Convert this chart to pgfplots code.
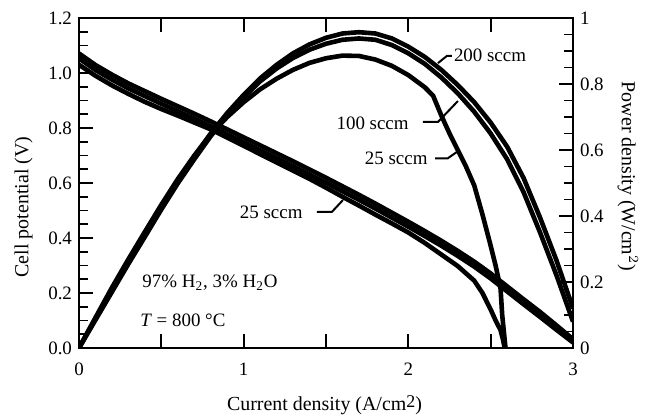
\documentclass[border=0pt]{standalone}
\usepackage{fontspec}
\setmainfont{Liberation Serif}
\usepackage{pgfplots}
\pgfplotsset{compat=1.18}
\newcommand\fs{\fontsize{9.5}{11}\selectfont}
\newcommand\fl{\fontsize{10.2}{12}\selectfont}

\begin{document}
\begin{tikzpicture}
\pgfplotsset{
  every axis/.append style={
    scale only axis, width=247bp, height=165bp,
    xmin=0, xmax=3,
    axis line style={line width=0.9bp,-},
    tick style={line width=0.9bp, black},
    major tick length=7bp, minor tick length=4.5bp,
    tick align=inside,
    tick label style={font=\fs},
    label style={font=\fl},
    /pgf/number format/assume math mode=true,
  },
  curve/.style={black, line width=2.3bp, line join=round, mark=none},
}
\begin{axis}[name=ax,
  ymin=0, ymax=1.2,
  xtick={0,0.5,1,1.5,2,2.5,3}, xticklabels={0,,1,,2,,3},
  ytick={0,0.2,0.4,0.6,0.8,1.0,1.2},
  minor y tick num=3,
  ytick pos=left, xtick pos=both,
  yticklabel style={/pgf/number format/.cd, fixed, fixed zerofill, precision=1},
  xticklabel shift=4bp,
  xlabel={Current density (A/cm\raisebox{0.35ex}{\fontsize{9}{9}\selectfont 2})},
  ylabel={Cell potential (V)},
  every axis x label/.style={at={(axis description cs:0.497,-0.1727)}, anchor=center},
  every axis y label/.style={at={(axis description cs:-0.112,0.427)}, anchor=center, rotate=90},
]
% 200 sccm voltage
\addplot[curve] coordinates {(0,1.071) (0.1,1.029) (0.2,0.994) (0.3,0.962) (0.4,0.934) (0.5,0.906) (0.6,0.879) (0.7,0.852) (0.8,0.824) (0.9,0.795) (1.0,0.766) (1.1,0.737) (1.2,0.708) (1.3,0.679) (1.4,0.649) (1.5,0.619) (1.6,0.588) (1.7,0.557) (1.8,0.525) (1.9,0.492) (2.0,0.459) (2.1,0.425) (2.2,0.390) (2.3,0.353) (2.4,0.314) (2.5,0.271) (2.6,0.224) (2.7,0.177) (2.8,0.131) (2.9,0.082) (3.0,0.032)};
% 100 sccm voltage
\addplot[curve] coordinates {(0,1.053) (0.1,1.011) (0.2,0.976) (0.3,0.944) (0.4,0.916) (0.5,0.888) (0.6,0.861) (0.7,0.834) (0.8,0.806) (0.9,0.777) (1.0,0.748) (1.1,0.719) (1.2,0.690) (1.3,0.661) (1.4,0.631) (1.5,0.601) (1.6,0.570) (1.7,0.539) (1.8,0.507) (1.9,0.474) (2.0,0.441) (2.1,0.407) (2.2,0.372) (2.3,0.335) (2.4,0.296) (2.5,0.253) (2.6,0.206) (2.7,0.159) (2.8,0.113) (2.9,0.066) (3.0,0.020)};
% 25 sccm voltage
\addplot[curve] coordinates {(0,1.030) (0.1,0.990) (0.2,0.955) (0.3,0.924) (0.4,0.895) (0.5,0.869) (0.6,0.845) (0.7,0.820) (0.8,0.795) (0.9,0.765) (1.0,0.735) (1.1,0.705) (1.2,0.675) (1.3,0.645) (1.4,0.615) (1.5,0.583) (1.6,0.550) (1.7,0.518) (1.8,0.485) (1.9,0.453) (2.0,0.420) (2.1,0.382) (2.2,0.340) (2.3,0.298) (2.4,0.245) (2.45,0.200) (2.5,0.140) (2.53,0.100) (2.56,0.065) (2.575,0.030) (2.585,0.0)};
% annotations
\draw[line width=1bp] (2.265,1.062) -- (2.234,1.062) -- (2.18,1.036);
\node[anchor=west, inner sep=0pt, font=\fs] at (2.275,1.065) {200 sccm};
\draw[line width=1bp] (2.089,0.822) -- (2.180,0.822) -- (2.301,0.898);
\node[anchor=east, inner sep=0pt, font=\fs] at (2.004,0.818) {100 sccm};
\draw[line width=1bp] (2.162,0.69) -- (2.24,0.69) -- (2.295,0.713);
\node[anchor=east, inner sep=0pt, font=\fs] at (2.119,0.691) {25 sccm};
\draw[line width=1bp] (1.445,0.495) -- (1.536,0.495) -- (1.603,0.538);
\node[anchor=east, inner sep=0pt, font=\fs] at (1.36,0.495) {25 sccm};
\node[anchor=west, inner sep=0pt, font=\fs] at (0.383,0.236) {97\% H\textsubscript{2}, 3\% H\textsubscript{2}O};
\node[anchor=west, inner sep=0pt, font=\fs] at (0.37,0.102) {\textit{T} = 800 °C};
\end{axis}
\begin{axis}[
  ymin=0, ymax=1,
  axis y line*=right, axis x line=none,
  ytick={0,0.2,0.4,0.6,0.8,1}, minor y tick num=3,
  ylabel={Power density (W/cm$^2$)},
  every axis y label/.style={at={(axis description cs:1.111,0.52)}, anchor=center, rotate=-90},
]
% 200 sccm power
\addplot[curve] coordinates {(0,0) (0.1,0.089) (0.2,0.177) (0.3,0.262) (0.4,0.345) (0.5,0.428) (0.6,0.507) (0.7,0.580) (0.8,0.650) (0.9,0.712) (1.0,0.767) (1.1,0.817) (1.2,0.858) (1.3,0.893) (1.4,0.920) (1.5,0.940) (1.6,0.953) (1.7,0.957) (1.8,0.953) (1.9,0.938) (2.0,0.913) (2.1,0.882) (2.2,0.843) (2.3,0.797) (2.4,0.745) (2.5,0.683) (2.6,0.610) (2.7,0.515) (2.8,0.395) (2.9,0.265) (3.0,0.120)};
% 100 sccm power
\addplot[curve] coordinates {(0,0) (0.1,0.085) (0.2,0.170) (0.3,0.255) (0.4,0.337) (0.5,0.420) (0.6,0.499) (0.7,0.572) (0.8,0.642) (0.9,0.705) (1.0,0.760) (1.1,0.808) (1.2,0.847) (1.3,0.879) (1.4,0.904) (1.5,0.922) (1.6,0.934) (1.7,0.938) (1.8,0.934) (1.9,0.918) (2.0,0.893) (2.1,0.861) (2.2,0.820) (2.3,0.772) (2.4,0.716) (2.5,0.650) (2.6,0.572) (2.7,0.472) (2.8,0.350) (2.9,0.220) (3.0,0.080)};
% 25 sccm power
\addplot[curve] coordinates {(0,0) (0.1,0.092) (0.2,0.183) (0.3,0.269) (0.4,0.352) (0.5,0.434) (0.6,0.512) (0.7,0.583) (0.8,0.648) (0.9,0.700) (1.0,0.745) (1.1,0.784) (1.2,0.816) (1.3,0.843) (1.4,0.864) (1.5,0.878) (1.6,0.886) (1.7,0.885) (1.8,0.874) (1.9,0.855) (2.0,0.827) (2.1,0.790) (2.15,0.765) (2.2,0.705) (2.25,0.650) (2.3,0.600) (2.35,0.550) (2.4,0.493) (2.45,0.405) (2.5,0.310) (2.53,0.250) (2.56,0.180) (2.57,0.100) (2.58,0.050) (2.59,0.0)};
\end{axis}
\pgfresetboundingbox
\path ([shift={(-39.5bp,-34bp)}]ax.south west) rectangle ([shift={(40.5bp,9bp)}]ax.north east);
\end{tikzpicture}
\end{document}
